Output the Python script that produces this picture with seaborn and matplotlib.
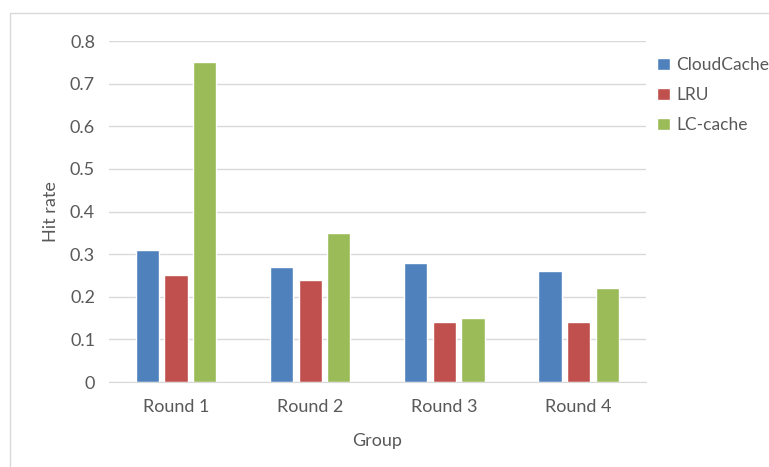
import matplotlib
matplotlib.use("Agg")
import matplotlib.pyplot as plt
from matplotlib.lines import Line2D
import seaborn as sns
import pandas as pd

# data
rounds = ["Round 1", "Round 2", "Round 3", "Round 4"]
cloudcache = [0.31, 0.27, 0.28, 0.26]
lru = [0.25, 0.24, 0.14, 0.14]
lc_cache = [0.75, 0.35, 0.15, 0.22]
methods = ["CloudCache", "LRU", "LC-cache"]

df = pd.DataFrame({
    "Group": rounds * 3,
    "Hit rate": cloudcache + lru + lc_cache,
    "Method": [methods[0]] * 4 + [methods[1]] * 4 + [methods[2]] * 4,
})

my_colors = {"CloudCache": "#4F81BD", "LRU": "#C0504D", "LC-cache": "#9BBB59"}

sns.set_style("white")
plt.rcParams["font.family"] = ["Lato", "DejaVu Sans"]

fig = plt.figure(figsize=(7.69, 4.67), dpi=100)
ax = fig.add_axes([0.1417, 0.182, 0.698, 0.73])

sns.barplot(data=df, x="Group", y="Hit rate", hue="Method", palette=my_colors,
            saturation=1, width=0.64, gap=0.19, ax=ax, legend=True)

ax.set_ylim(0, 0.8)
ax.set_yticks([0, 0.1, 0.2, 0.3, 0.4, 0.5, 0.6, 0.7, 0.8])
ax.set_yticklabels(["0", "0.1", "0.2", "0.3", "0.4", "0.5", "0.6", "0.7", "0.8"])
ax.yaxis.grid(True, color="#D9D9D9", linewidth=1)
ax.set_axisbelow(True)
for s in ["top", "right", "left"]:
    ax.spines[s].set_visible(False)
ax.spines["bottom"].set_color("#D9D9D9")
ax.tick_params(axis="both", length=0, labelsize=13, colors="#595959")
ax.tick_params(axis="x", pad=12)
ax.tick_params(axis="y", pad=10)

ax.set_xlabel("Group", fontsize=13, color="#595959", labelpad=13)
ax.set_ylabel("Hit rate", fontsize=13, color="#595959", labelpad=8)

ax.legend(loc="upper left", bbox_to_anchor=(0.855, 0.878), bbox_transform=fig.transFigure,
          frameon=False, fontsize=12.5, handlelength=0.7, handleheight=0.7,
          handletextpad=0.4, labelspacing=0.8, borderpad=0, borderaxespad=0,
          labelcolor="#595959")

# outer chart frame (cut off at right and bottom)
fig.add_artist(Line2D([0.013, 0.013], [0.0, 0.972], color="#D9D9D9", linewidth=1, transform=fig.transFigure))
fig.add_artist(Line2D([0.013, 1.0], [0.972, 0.972], color="#D9D9D9", linewidth=1, transform=fig.transFigure))

fig.savefig("out.png", dpi=100)
